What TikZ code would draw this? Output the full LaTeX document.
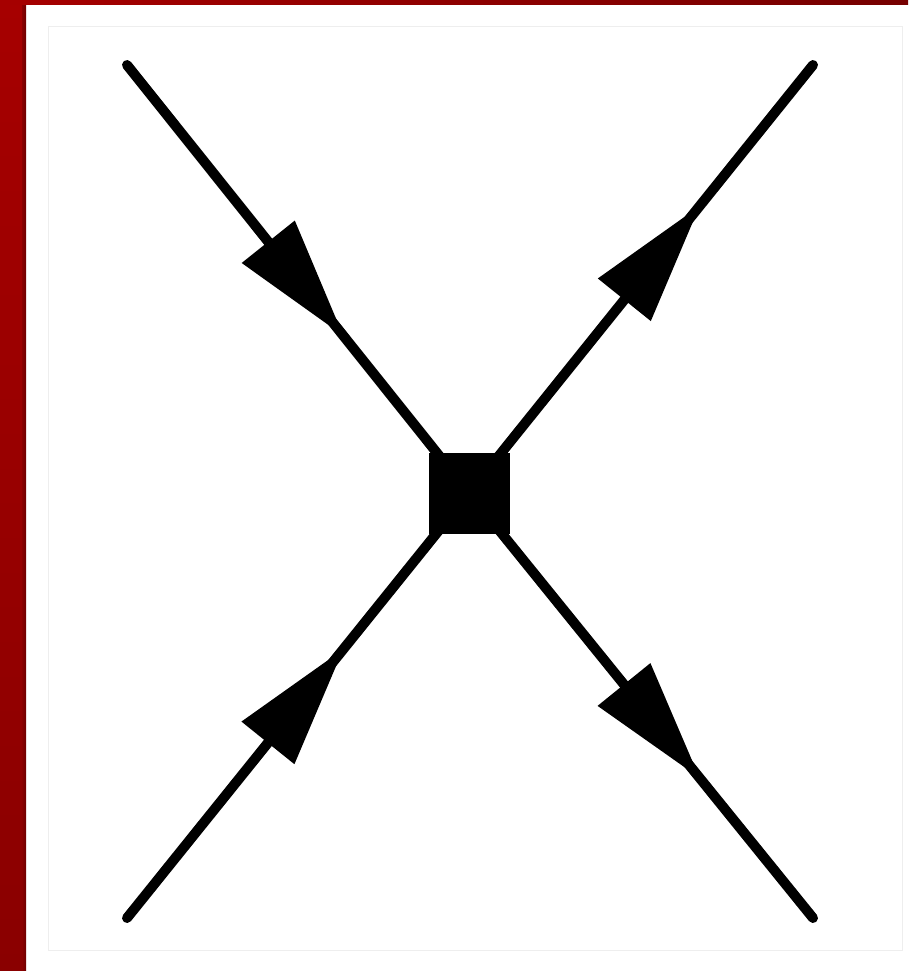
\documentclass[tikz,border=0pt]{standalone}
\usetikzlibrary{calc}
\definecolor{barred}{RGB}{166,0,0}
\definecolor{barreddark}{RGB}{138,0,0}
\definecolor{topdark}{RGB}{118,0,0}
\definecolor{framegray}{RGB}{238,238,238}
\tikzset{
  leg/.style={line width=10pt, line cap=round},
  vertex/.style={fill=black, draw=none, minimum size=81pt, inner sep=0pt, rectangle},
  headfill/.style={fill=black, draw=none}
}
\newcommand{\arrowhead}[3]{% from, to, position of tip
  \coordinate (tipA) at ($(#1)!#3!(#2)$);
  \coordinate (baseA) at ($(tipA)!120pt!(#1)$);
  \fill[headfill] (tipA) -- ($(baseA)!34pt!90:(tipA)$) -- ($(baseA)!34pt!-90:(tipA)$) -- cycle;
}
\begin{document}
\begin{tikzpicture}[x=1pt,y=-1pt]
\useasboundingbox (0,0) rectangle (908,971);
\fill[white] (0,0) rectangle (908,971);
% red side and top bars
\shade[top color=barred, bottom color=barreddark] (0,0) rectangle (22,971);
\shade[left color=barreddark, right color=barreddark!80!black] (22,0) rectangle (26,971);
\shade[left color=barred, right color=topdark] (0,0) rectangle (908,5);
% faint frame
\draw[framegray, line width=1pt] (48,27) rectangle (902,950);
% named points
\coordinate (c) at (469,493);
\coordinate (ul) at (127,65);
\coordinate (ur) at (813,65);
\coordinate (ll) at (127,918);
\coordinate (lr) at (813,918);
% legs
\draw[leg] (ul) -- (c);
\draw[leg] (c) -- (ur);
\draw[leg] (ll) -- (c);
\draw[leg] (c) -- (lr);
% arrowheads
\arrowhead{ul}{c}{0.632}
\arrowhead{c}{ur}{0.67}
\arrowhead{ll}{c}{0.632}
\arrowhead{c}{lr}{0.67}
% vertex
\node[vertex] (sq) at (c) {};
\end{tikzpicture}
\end{document}
